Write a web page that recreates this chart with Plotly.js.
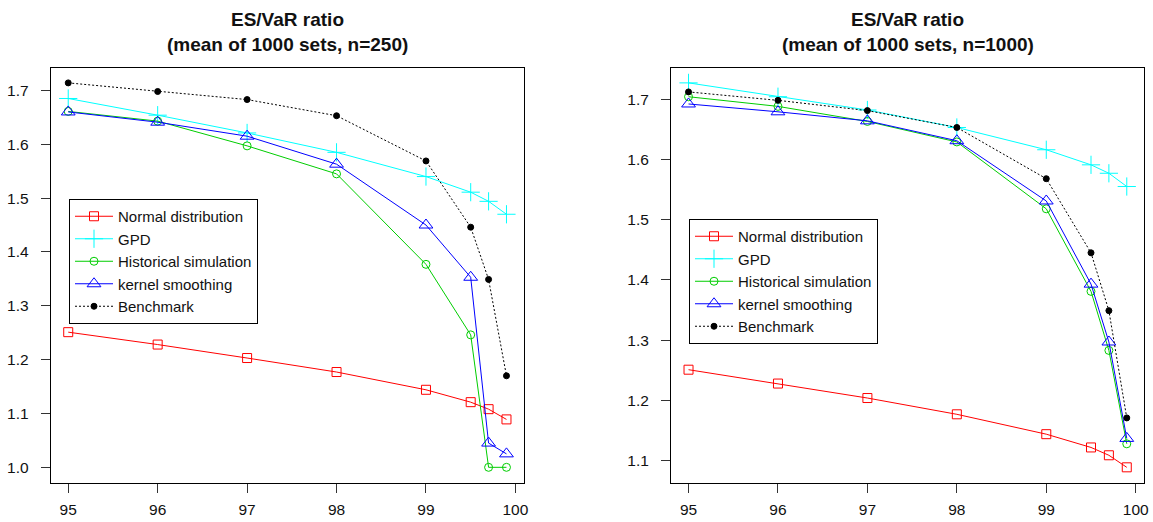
<!DOCTYPE html>
<html><head><meta charset="utf-8">
<script src="https://cdn.plot.ly/plotly-3.0.1.min.js"></script>
<style>html,body{margin:0;padding:0;background:#fff}#chart{width:1153px;height:522px}</style>
</head><body><div id="chart"></div>
<script>
// Confidence levels (%)
const pct = [95, 96, 97, 98, 99, 99.5, 99.7, 99.9];
const seriesNames = ["Normal distribution", "GPD", "Historical simulation", "kernel smoothing", "Benchmark"];

// n = 250
const normal250 = [1.251, 1.228, 1.203, 1.177, 1.144, 1.121, 1.108, 1.089];
const gpd250    = [1.685, 1.654, 1.621, 1.585, 1.540, 1.511, 1.494, 1.470];
const hist250   = [1.661, 1.643, 1.597, 1.545, 1.377, 1.246, 1.000, 1.000];
const kernel250 = [1.660, 1.641, 1.615, 1.563, 1.450, 1.353, 1.045, 1.025];
const bench250  = [1.714, 1.698, 1.683, 1.653, 1.569, 1.446, 1.349, 1.170];

// n = 1000
const normal1000 = [1.251, 1.228, 1.204, 1.177, 1.144, 1.122, 1.109, 1.089];
const gpd1000    = [1.727, 1.704, 1.682, 1.653, 1.616, 1.591, 1.577, 1.555];
const hist1000   = [1.704, 1.688, 1.663, 1.629, 1.518, 1.381, 1.283, 1.128];
const kernel1000 = [1.692, 1.679, 1.664, 1.631, 1.531, 1.393, 1.297, 1.137];
const bench1000  = [1.712, 1.698, 1.681, 1.653, 1.568, 1.445, 1.349, 1.171];

const xTicks = [95, 96, 97, 98, 99, 100];
const yTicks250 = [1.0, 1.1, 1.2, 1.3, 1.4, 1.5, 1.6, 1.7];
const yTicks1000 = [1.1, 1.2, 1.3, 1.4, 1.5, 1.6, 1.7];
const title1 = "ES/VaR ratio";
const title250 = "(mean of 1000 sets, n=250)";
const title1000 = "(mean of 1000 sets, n=1000)";

const FONT = "Liberation Sans, Arial, sans-serif";
const styles = [
  {color: "#FF0000", symbol: "square-open", size: 9, dash: "solid"},
  {color: "#00FFFF", symbol: "cross-thin-open", size: 13, dash: "solid"},
  {color: "#00CD00", symbol: "circle-open", size: 8, dash: "solid"},
  {color: "#0000FF", symbol: "triangle-up-open", size: 12, dash: "solid"},
  {color: "#000000", symbol: "circle", size: 6, dash: "2px,2px"}
];

function rRange(arrs) {
  const all = [].concat(...arrs);
  const mn = Math.min(...all), mx = Math.max(...all);
  const s = (mx - mn) * 0.04;
  return [mn - s, mx + s];
}

function mk(ys, i, xa, ya, leg) {
  const st = styles[i];
  return {
    x: pct, y: ys, type: "scatter", mode: "lines+markers",
    name: seriesNames[i], xaxis: xa, yaxis: ya, legend: leg,
    line: {color: st.color, width: 1, dash: st.dash},
    marker: {symbol: st.symbol, size: st.size, color: st.color, line: {color: st.color, width: 1}}
  };
}

const left = [normal250, gpd250, hist250, kernel250, bench250];
const right = [normal1000, gpd1000, hist1000, kernel1000, bench1000];
const traces = [];
left.forEach((s, i) => traces.push(mk(s, i, "x", "y", "legend")));
right.forEach((s, i) => traces.push(mk(s, i, "x2", "y2", "legend2")));

const xr = rRange([pct]);
const axisCommon = {
  showline: true, mirror: true, linecolor: "#000", linewidth: 1,
  ticks: "outside", ticklen: 9, tickcolor: "#333", tickwidth: 1,
  showgrid: false, zeroline: false, fixedrange: true,
  tickfont: {family: FONT, size: 15.5, color: "#111"}
};
const xd1 = [50.7/1153, 524/1153], xd2 = [671/1153, 1144.3/1153];
const yd = [(522-482.7)/522, (522-67.5)/522];

const legCommon = {
  bgcolor: "#fff", bordercolor: "#000", borderwidth: 1,
  font: {family: FONT, size: 15, color: "#111"},
  xanchor: "left", yanchor: "top", itemwidth: 38, tracegroupgap: 0
};

const titleFont = {family: FONT, size: 19, color: "#111", weight: "bold"};
function titleAnn(txt, xc, yPix) {
  return {text: "<b>" + txt + "</b>", xref: "paper", yref: "paper", x: xc, y: 1 - yPix/522,
          xanchor: "center", yanchor: "middle", showarrow: false, font: titleFont};
}

const layout = {
  width: 1153, height: 522,
  margin: {l: 0, r: 0, t: 0, b: 0},
  paper_bgcolor: "#fff", plot_bgcolor: "#fff",
  showlegend: true,
  xaxis: Object.assign({}, axisCommon, {domain: xd1, anchor: "y", range: xr, tickvals: xTicks, ticklabelstandoff: 4}),
  yaxis: Object.assign({}, axisCommon, {domain: yd, anchor: "x", range: rRange(left), tickvals: yTicks250, tickformat: ".1f", ticklabelstandoff: 9}),
  xaxis2: Object.assign({}, axisCommon, {domain: xd2, anchor: "y2", range: xr, tickvals: xTicks, ticklabelstandoff: 4}),
  yaxis2: Object.assign({}, axisCommon, {domain: yd, anchor: "x2", range: rRange(right), tickvals: yTicks1000, tickformat: ".1f", ticklabelstandoff: 9}),
  legend: Object.assign({}, legCommon, {x: 69/1153, y: 1 - 199/522}),
  legend2: Object.assign({}, legCommon, {x: 689/1153, y: 1 - 219/522}),
  annotations: [
    titleAnn(title1, (xd1[0]+xd1[1])/2, 20),
    titleAnn(title250, (xd1[0]+xd1[1])/2, 44),
    titleAnn(title1, (xd2[0]+xd2[1])/2, 20),
    titleAnn(title1000, (xd2[0]+xd2[1])/2, 44)
  ]
};

Plotly.newPlot("chart", traces, layout, {staticPlot: true, displayModeBar: false});
</script></body></html>
